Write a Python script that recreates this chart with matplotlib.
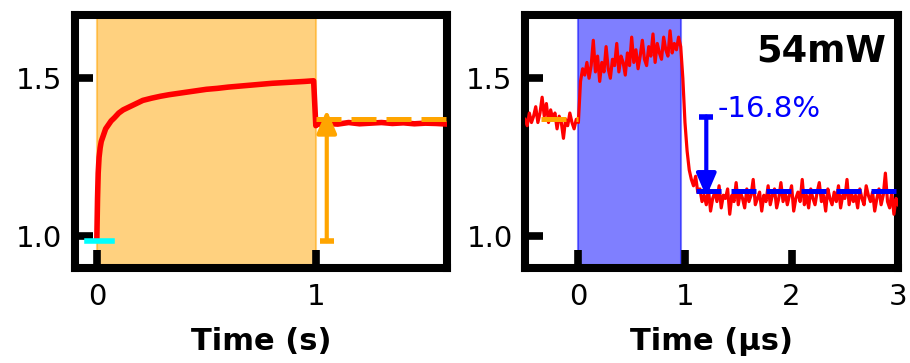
import numpy as np
import matplotlib
matplotlib.use('Agg')
import matplotlib.pyplot as plt

# left panel: slow (seconds) trace
left_t = [0.0, 0.003, 0.006, 0.01, 0.015, 0.02, 0.03, 0.04, 0.05, 0.065, 0.08, 0.1, 0.12,
          0.15, 0.18, 0.21, 0.25, 0.29, 0.33, 0.37, 0.41, 0.45, 0.5, 0.55, 0.6, 0.65, 0.7,
          0.75, 0.8, 0.85, 0.9, 0.95, 0.99, 1.0, 1.01, 1.05, 1.1, 1.15, 1.2, 1.25, 1.3,
          1.35, 1.4, 1.45, 1.5, 1.55, 1.6]
left_v = [1.00, 1.12, 1.20, 1.25, 1.28, 1.30, 1.32, 1.34, 1.35, 1.365, 1.375, 1.39, 1.40,
          1.41, 1.42, 1.43, 1.437, 1.443, 1.448, 1.452, 1.456, 1.46, 1.465, 1.468, 1.472,
          1.475, 1.478, 1.481, 1.484, 1.486, 1.488, 1.49, 1.492, 1.35, 1.355, 1.357, 1.355,
          1.36, 1.356, 1.358, 1.36, 1.357, 1.359, 1.356, 1.358, 1.357, 1.355]
left_base = 0.985      # level before pulse
left_after = 1.372     # level after pulse

# right panel: fast (microseconds) trace, sampled every 0.02 us from -0.5 to 3.0
right_v = [1.37, 1.35, 1.39, 1.36, 1.38, 1.41, 1.36, 1.39, 1.44, 1.38, 1.42, 1.36, 1.40,
           1.37, 1.39, 1.34, 1.38, 1.36, 1.31, 1.37, 1.35, 1.39, 1.36, 1.34, 1.37,
           1.36,
           1.49, 1.53, 1.51, 1.55, 1.50, 1.54, 1.62, 1.52, 1.57, 1.49, 1.55, 1.52, 1.60,
           1.53, 1.50, 1.56, 1.54, 1.61, 1.52, 1.57, 1.55, 1.51, 1.58, 1.54, 1.63, 1.55,
           1.59, 1.53, 1.57, 1.62, 1.56, 1.54, 1.60, 1.57, 1.64, 1.55, 1.61, 1.58, 1.56,
           1.63, 1.59, 1.57, 1.65, 1.58, 1.61, 1.59, 1.63, 1.60,
           1.50, 1.36, 1.27, 1.21, 1.18, 1.16, 1.19, 1.14, 1.15, 1.11,
           1.13, 1.10, 1.15, 1.08, 1.12, 1.14, 1.11, 1.16, 1.09, 1.13,
           1.12, 1.15, 1.07, 1.13, 1.11, 1.17, 1.10, 1.14, 1.12, 1.09,
           1.15, 1.11, 1.13, 1.18, 1.10, 1.12, 1.14, 1.08, 1.13, 1.11,
           1.16, 1.10, 1.13, 1.15, 1.09, 1.12, 1.17, 1.11, 1.14, 1.10,
           1.13, 1.16, 1.08, 1.12, 1.14, 1.11, 1.18, 1.10, 1.13, 1.09,
           1.15, 1.12, 1.10, 1.14, 1.17, 1.11, 1.13, 1.08, 1.15, 1.12,
           1.10, 1.14, 1.11, 1.16, 1.09, 1.13, 1.12, 1.18, 1.10, 1.14,
           1.11, 1.13, 1.09, 1.15, 1.12, 1.10, 1.16, 1.13, 1.11, 1.14,
           1.08, 1.12, 1.15, 1.10, 1.13, 1.20, 1.11, 1.09, 1.14, 1.07,
           1.12, 1.10]
right_t = np.linspace(-0.5, 3.0, len(right_v))
right_before = 1.372
right_after = 1.144
change_label = '-16.8%'
power_label = '54mW'

fig = plt.figure(figsize=(9.1, 3.63), dpi=100)
ax1 = fig.add_axes([0.0824, 0.2617, 0.409, 0.697])
ax2 = fig.add_axes([0.577, 0.2617, 0.41, 0.697])

for ax in [ax1, ax2]:
    for s in ax.spines.values():
        s.set_linewidth(5.8)
    ax.tick_params(direction='in', length=13, width=5.5, labelsize=21)
    ax.tick_params(axis='y', pad=9)
    ax.tick_params(axis='x', pad=11)
    ax.set_ylim(0.9, 1.7)
    ax.set_yticks([1.0, 1.5])
    ax.set_yticklabels(['1.0', '1.5'])

# left
ax1.axvspan(0, 1, color='orange', alpha=0.5, lw=1.5, zorder=1)
ax1.plot(left_t, left_v, color='red', lw=4, zorder=3)
ax1.plot([-0.045, 0.07], [left_base, left_base], color='cyan', lw=4, zorder=4)
ax1.plot([1.0, 1.6], [left_after, left_after], color='orange', lw=3.6, dashes=(5, 2), zorder=4)
ax1.annotate('', xy=(1.05, 1.40), xytext=(1.05, left_base),
             arrowprops=dict(arrowstyle='-|>,head_length=0.7,head_width=0.3', color='orange',
                             lw=3, shrinkA=0, shrinkB=0, mutation_scale=20), zorder=5)
ax1.plot([1.05], [left_base], marker='_', ms=10, mew=4, color='orange', zorder=5)
ax1.set_xlim(-0.1, 1.6)
ax1.set_xticks([0, 1])
ax1.set_xlabel('Time (s)', fontsize=22, fontweight='bold', labelpad=11)

# right
ax2.axvspan(0, 0.96, color='blue', alpha=0.5, lw=1.5, zorder=1)
ax2.plot(right_t, right_v, color='red', lw=2.3, zorder=3)
ax2.plot([-0.35, 0.0], [right_before, right_before], color='orange', lw=3.6, dashes=(5, 2), zorder=4)
ax2.plot([1.1, 3.0], [right_after, right_after], color='blue', lw=3.6, dashes=(5, 2), zorder=4)
ax2.annotate('', xy=(1.2, 1.125), xytext=(1.2, 1.379),
             arrowprops=dict(arrowstyle='-|>,head_length=0.7,head_width=0.3', color='blue',
                             lw=3, shrinkA=0, shrinkB=0, mutation_scale=20), zorder=5)
ax2.plot([1.2], [1.379], marker='_', ms=10, mew=4, color='blue', zorder=5)
ax2.text(1.31, 1.376, change_label, color='blue', fontsize=21, ha='left', va='baseline')
ax2.text(2.89, 1.552, power_label, fontsize=26.5, fontweight='bold', ha='right', va='baseline')
ax2.set_xlim(-0.5, 3.0)
ax2.set_xticks([0, 1, 2, 3])
ax2.set_xlabel('Time (µs)', fontsize=22, fontweight='bold', labelpad=11)

fig.savefig('out.png', dpi=100)
